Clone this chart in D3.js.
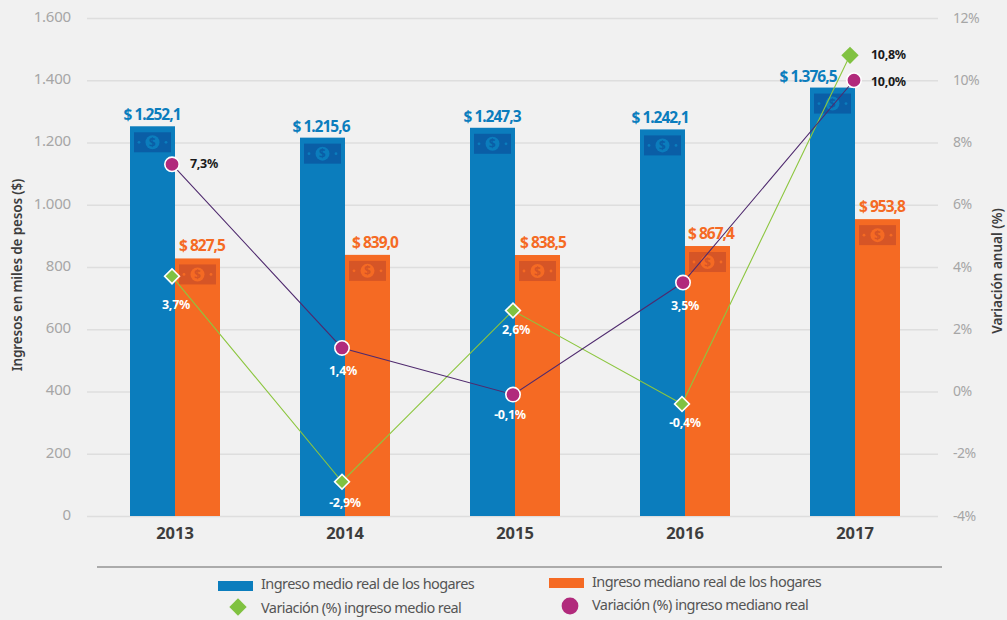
<!DOCTYPE html>
<html><head><meta charset="utf-8">
<script src="https://cdn.jsdelivr.net/npm/d3@7"></script>
<style>
html,body{margin:0;padding:0;background:#f1f1f1}
svg{display:block}
text{font-family:"Noto Sans",sans-serif}
</style></head><body><svg id="c" width="1007" height="620"></svg>
<script>
const years=["2013","2014","2015","2016","2017"];
const ingresoMedio=[1252.1,1215.6,1247.3,1242.1,1376.5];
const ingresoMediano=[827.5,839.0,838.5,867.4,953.8];
const varMedio=[3.7,-2.9,2.6,-0.4,10.8];
const varMediano=[7.3,1.4,-0.1,3.5,10.0];
const leftTicks=[0,200,400,600,800,1000,1200,1400,1600];
const rightTicks=[-4,-2,0,2,4,6,8,10,12];
const legendLabels=["Ingreso medio real de los hogares","Ingreso mediano real de los hogares","Variación (%) ingreso medio real","Variación (%) ingreso mediano real"];

const C={blue:"#0b7dbd",blueDark:"#0a5ea6",orange:"#f56a23",orangeDark:"#d65526",green:"#80c241",greenLine:"#8cc63f",purple:"#b12a7c",purpleLine:"#4f2a6e",grid:"#dedede",tick:"#a6a6a6",dark:"#3d3d3d",black:"#1a1a1a"};
// layout nudges per year
const lblMedioDx=[-23,-24,-23,-25,-47], lblMedianoDx=[27,30,28,26,27];
const ptMedioDx=[-3,-3,-2,-3,-5], ptMedianoDx=[-3,-3,-2,-2,-1];
const vmLbl=[[4,29],[3,21],[3,19],[3,19],[null,null]], vnLbl=[[null,null],[1,23],[-3,20],[2,23],[null,null]];

const fmt=d3.formatLocale({decimal:",",thousands:".",grouping:[3],currency:["$",""],minus:"-"});
const fMoney=d=>"$ "+fmt.format(",.1f")(d), fPct=d=>fmt.format(".1f")(d)+"%", fTick=fmt.format(",.0f");

const svg=d3.select("#c");
const x=d3.scaleBand().domain(years).range([90,940]);
const y=d3.scaleLinear().domain([0,1600]).range([516,18]);
const y2=d3.scaleLinear().domain([-4,12]).range([516,18]);
const cx=i=>x(years[i])+x.bandwidth()/2;
const barW=45;

// axes
const gL=svg.append("g").attr("transform","translate(87,0)").call(d3.axisLeft(y).tickValues(leftTicks).tickFormat(fTick).tickSize(-851).tickPadding(16));
gL.select(".domain").remove();
gL.selectAll("line").attr("stroke",C.grid).attr("stroke-width",1.4);
gL.selectAll("text").attr("fill",C.tick).attr("font-size",15).attr("dy","0.22em").attr("letter-spacing","-0.2");
const gR=svg.append("g").attr("transform","translate(938,0)").call(d3.axisRight(y2).tickValues(rightTicks).tickFormat(d=>d+"%").tickSize(0).tickPadding(15));
gR.select(".domain").remove();
gR.selectAll("text").attr("fill",C.tick).attr("font-size",14).attr("dy","0.3em").attr("letter-spacing","-0.5");
const gX=svg.append("g").attr("transform","translate(0,516)").call(d3.axisBottom(x).tickSize(0).tickPadding(11));
gX.select(".domain").remove();
gX.selectAll("text").attr("fill",C.dark).attr("font-size",16.5).attr("font-weight",700).attr("font-family",'"Noto Sans",sans-serif');

// bars + banknote icons
function bars(vals,off,col,dark){
  const g=svg.append("g").selectAll("g").data(vals).join("g").attr("transform",(d,i)=>`translate(${cx(i)+off},0)`);
  g.append("rect").attr("x",0).attr("width",barW).attr("y",d=>y(d)).attr("height",d=>y(0)-y(d)).attr("fill",col);
  g.append("rect").attr("x",4).attr("width",37).attr("y",d=>y(d)+6).attr("height",20).attr("fill",dark);
  g.append("circle").attr("cx",22.5).attr("cy",d=>y(d)+16).attr("r",7).attr("fill",col);
  g.append("circle").attr("cx",9).attr("cy",d=>y(d)+16).attr("r",1.4).attr("fill",col);
  g.append("circle").attr("cx",36).attr("cy",d=>y(d)+16).attr("r",1.4).attr("fill",col);
  g.append("text").attr("x",22.5).attr("y",d=>y(d)+20.5).attr("text-anchor","middle").attr("font-size",12).attr("font-weight",700).attr("fill",dark).text("$");
}
bars(ingresoMedio,-barW,C.blue,C.blueDark);
bars(ingresoMediano,0,C.orange,C.orangeDark);

// lines
const px=(dx,i)=>cx(i)+dx[i];
const line=(dx)=>d3.line().x((d,i)=>px(dx,i)).y(d=>y2(d));
svg.append("path").datum(varMedio).attr("d",line(ptMedioDx)).attr("fill","none").attr("stroke",C.greenLine).attr("stroke-width",1.1);
svg.append("path").datum(varMediano).attr("d",line(ptMedianoDx)).attr("fill","none").attr("stroke",C.purpleLine).attr("stroke-width",1.1);

const last=varMedio.length-1;
svg.append("g").selectAll("path").data(varMedio).join("path")
  .attr("d",(d,i)=>d3.symbol().type(d3.symbolSquare).size(i===last?150:110)())
  .attr("transform",(d,i)=>`translate(${px(ptMedioDx,i)},${y2(d)}) rotate(45)`)
  .attr("fill",C.green).attr("stroke",(d,i)=>i===last?"none":"#fff").attr("stroke-width",1.6);
svg.append("g").selectAll("circle").data(varMediano).join("circle")
  .attr("cx",(d,i)=>px(ptMedianoDx,i)).attr("cy",d=>y2(d)).attr("r",7.2)
  .attr("fill",C.purple).attr("stroke","#fff").attr("stroke-width",1.6);

// value labels
const val=svg.append("g").attr("font-size",15.5).attr("font-weight",700).attr("text-anchor","middle").attr("letter-spacing","-1");
val.selectAll(".m").data(ingresoMedio).join("text").attr("x",(d,i)=>cx(i)+lblMedioDx[i]).attr("y",d=>y(d)-6).attr("fill",C.blue).text(fMoney);
val.selectAll(".n").data(ingresoMediano).join("text").attr("x",(d,i)=>cx(i)+lblMedianoDx[i]).attr("y",d=>y(d)-7).attr("fill",C.orange).text(fMoney);

const pct=svg.append("g").attr("font-size",12.5).attr("font-weight",700).attr("letter-spacing","-0.3");
varMedio.forEach((d,i)=>{
  if(i<4) pct.append("text").attr("x",px(ptMedioDx,i)+vmLbl[i][0]).attr("y",y2(d)+vmLbl[i][1]+4).attr("text-anchor","middle").attr("fill","#fff").text(fPct(d));
  else pct.append("text").attr("x",871).attr("y",y2(d)+4).attr("fill",C.black).text(fPct(d));
});
varMediano.forEach((d,i)=>{
  if(i>0&&i<4) pct.append("text").attr("x",px(ptMedianoDx,i)+vnLbl[i][0]).attr("y",y2(d)+vnLbl[i][1]+4).attr("text-anchor","middle").attr("fill","#fff").text(fPct(d));
  else pct.append("text").attr("x",i==0?190:871).attr("y",y2(d)+(i==0?4:6)).attr("fill",C.black).text(fPct(d));
});

// axis titles
svg.append("text").attr("transform","translate(22,275) rotate(-90)").attr("text-anchor","middle").attr("font-size",13.5).attr("font-weight",600).attr("letter-spacing","-0.15").attr("fill",C.dark).text("Ingresos en miles de pesos ($)");
svg.append("text").attr("transform","translate(1002,271) rotate(-90)").attr("text-anchor","middle").attr("font-size",13.5).attr("font-weight",600).attr("fill",C.dark).text("Variación anual (%)");

// legend
svg.append("line").attr("x1",97).attr("x2",942).attr("y1",567).attr("y2",567).attr("stroke","#666").attr("stroke-width",1.2);
const lg=svg.append("g").attr("font-size",14.5).attr("fill","#555").attr("letter-spacing","-0.58");
svg.append("rect").attr("x",218).attr("y",581).attr("width",35).attr("height",10).attr("fill",C.blue);
svg.append("rect").attr("x",549).attr("y",578).attr("width",35).attr("height",10).attr("fill",C.orange);
svg.append("path").attr("d",d3.symbol().type(d3.symbolSquare).size(150)).attr("transform","translate(238,607) rotate(45)").attr("fill",C.green);
svg.append("circle").attr("cx",570).attr("cy",606).attr("r",8.4).attr("fill",C.purple);
lg.append("text").attr("x",261).attr("y",589).text(legendLabels[0]);
lg.append("text").attr("x",592).attr("y",587).text(legendLabels[1]);
lg.append("text").attr("x",261).attr("y",613).text(legendLabels[2]);
lg.append("text").attr("x",592).attr("y",610).text(legendLabels[3]);
</script></body></html>
